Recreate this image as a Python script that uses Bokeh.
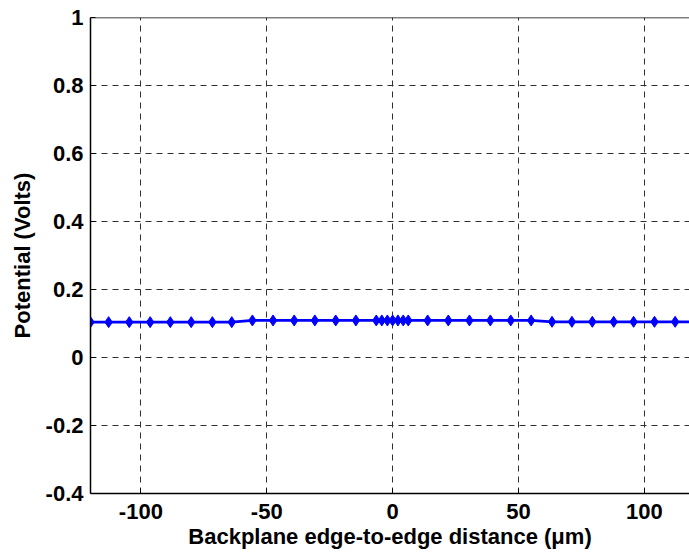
from bokeh.plotting import figure
from bokeh.models import FixedTicker, Span, Range1d
from bokeh.embed import file_html
from bokeh.resources import INLINE

# Potential along the backplane, sampled edge to edge (micrometres)
distance_um = [-120.0, -112.8, -104.6, -96.3, -88.3, -80.0, -71.6, -63.9,
               -55.7, -47.5, -39.1, -30.9, -22.6, -14.6,
               -6.5, -4.3, -2.1, 0.0, 2.1, 4.2, 6.2,
               13.9, 22.1, 30.5, 38.8, 46.9, 55.0,
               63.3, 71.2, 79.3, 87.8, 95.7, 104.0, 112.2, 120.2]
potential_v = [0.104, 0.104, 0.104, 0.104, 0.104, 0.104, 0.104, 0.104,
               0.109, 0.109, 0.109, 0.109, 0.109, 0.109,
               0.109, 0.109, 0.109, 0.109, 0.109, 0.109, 0.109,
               0.109, 0.109, 0.109, 0.109, 0.109, 0.109,
               0.105, 0.105, 0.105, 0.105, 0.105, 0.105, 0.105, 0.105]

x_ticks = [-100, -50, 0, 50, 100]
x_tick_labels = ["-100", "-50", "0", "50", "100"]
y_ticks = [-0.4, -0.2, 0, 0.2, 0.4, 0.6, 0.8, 1.0]
y_tick_labels = ["-0.4", "-0.2", "0", "0.2", "0.4", "0.6", "0.8", "1"]

FONT = "Liberation Sans"

p = figure(width=689, height=554, output_backend="svg", toolbar_location=None,
           x_range=Range1d(-120, 117.9), y_range=Range1d(-0.4, 1.0),
           min_border_left=90, min_border_right=0, min_border_top=17,
           min_border_bottom=61)
p.background_fill_color = "white"
p.border_fill_color = "white"
p.outline_line_color = None

p.line(distance_um, potential_v, line_color="#0000ff", line_width=2.8)
p.scatter(distance_um, potential_v, marker="diamond", size=11,
          fill_color="#0000ff", line_color="#0000ff")

# top edge of the axes box
p.add_layout(Span(location=1.0, dimension="width", line_color="black",
                  line_width=1.5))

for ax in (p.xaxis, p.yaxis):
    ax.axis_line_color = "black"
    ax.axis_line_width = 1.5
    ax.major_tick_in = 5
    ax.major_tick_out = 0
    ax.minor_tick_in = 0
    ax.minor_tick_out = 0
    ax.major_tick_line_color = "black"
    ax.major_label_text_font = FONT
    ax.major_label_text_font_style = "bold"
    ax.major_label_text_font_size = "22px"
    ax.major_label_text_color = "black"
    ax.axis_label_text_font = FONT
    ax.axis_label_text_font_style = "bold"
    ax.axis_label_text_font_size = "22px"
    ax.axis_label_text_color = "black"

p.xaxis.ticker = FixedTicker(ticks=x_ticks)
p.yaxis.ticker = FixedTicker(ticks=y_ticks)
p.xaxis.major_label_overrides = {t: s for t, s in zip(x_ticks, x_tick_labels)}
p.yaxis.major_label_overrides = {t: s for t, s in zip(y_ticks, y_tick_labels)}
p.xaxis.major_label_standoff = 10
p.yaxis.major_label_standoff = 7
p.xaxis.axis_label = "Backplane edge-to-edge distance (\u03bcm)"
p.yaxis.axis_label = "Potential (Volts)"
p.xaxis.axis_label_standoff = 2
p.yaxis.axis_label_standoff = 8

for g in (p.xgrid, p.ygrid):
    g.grid_line_color = "#303030"
    g.grid_line_dash = "6 5"
    g.grid_line_width = 1

open("out.html", "w").write(file_html(p, INLINE))
